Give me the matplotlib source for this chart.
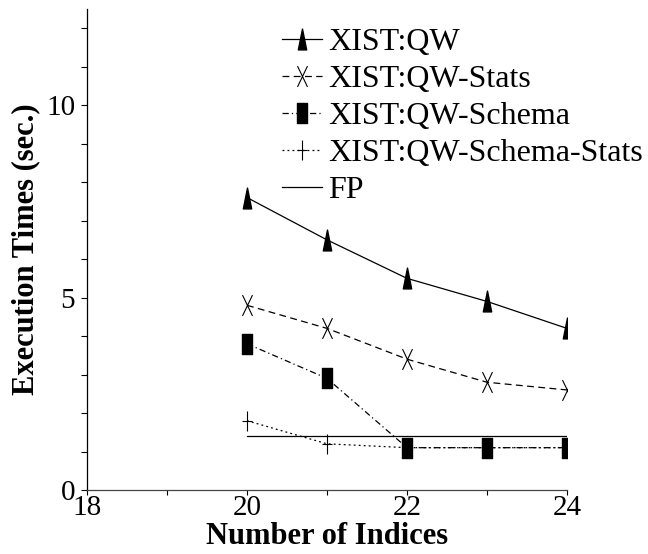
import numpy as np
import matplotlib.pyplot as plt
from matplotlib.path import Path

plt.rcParams['font.family'] = ['Liberation Serif', 'DejaVu Serif']

indices = [20, 21, 22, 23, 24]
qw = [7.6, 6.5, 5.5, 4.9, 4.2]
qw_stats = [4.8, 4.2, 3.4, 2.8, 2.6]
qw_schema = [3.8, 2.9, 1.1, 1.1, 1.1]
qw_schema_stats = [1.8, 1.2, 1.1, 1.1, 1.1]
fp = [1.4, 1.4, 1.4, 1.4, 1.4]

labels = ["XIST:QW", "XIST:QW-Stats", "XIST:QW-Schema",
          "XIST:QW-Schema-Stats", "FP"]

# tall, narrow markers like the original figure
tri = Path([(-0.2, -0.5), (0.2, -0.5), (0.0, 0.5), (-0.2, -0.5)],
           [Path.MOVETO, Path.LINETO, Path.LINETO, Path.CLOSEPOLY])
cross = Path([(-0.24, -0.5), (0.24, 0.5), (-0.24, 0.5), (0.24, -0.5)],
             [Path.MOVETO, Path.LINETO, Path.MOVETO, Path.LINETO])
rect = Path([(-0.22, -0.5), (0.22, -0.5), (0.22, 0.5), (-0.22, 0.5), (-0.22, -0.5)],
            [Path.MOVETO, Path.LINETO, Path.LINETO, Path.LINETO, Path.CLOSEPOLY])
plus = Path([(0, -0.5), (0, 0.5), (-0.25, 0), (0.25, 0)],
            [Path.MOVETO, Path.LINETO, Path.MOVETO, Path.LINETO])

fig = plt.figure(figsize=(6.48, 5.54), dpi=100)
ax = fig.add_axes([87/648, 1-490/554, 480/648, 481/554])

lw = 0.9
ax.plot(indices, qw, color='black', lw=lw, ls='-', marker=tri, ms=15,
        mfc='black', mec='black', label=labels[0])
ax.plot(indices, qw_stats, color='black', lw=lw, ls=(0, (5.5, 3.5)), marker=cross, ms=15,
        mfc='none', mec='black', mew=0.8, label=labels[1])
ax.plot(indices, qw_schema, color='black', lw=lw, ls=(0, (5, 2.5, 1, 2.5)), marker=rect, ms=15,
        mfc='black', mec='black', label=labels[2])
ax.plot(indices, qw_schema_stats, color='black', lw=lw, ls=(0, (1.5, 2.5)), marker=plus, ms=15,
        mfc='none', mec='black', mew=0.8, label=labels[3])
ax.plot(indices, fp, color='black', lw=lw, ls='-', label=labels[4])

ax.set_xlim(18, 24)
ax.set_ylim(0, 12.5)
ax.set_xticks([18, 20, 22, 24])
ax.set_xticks([19, 21, 23], minor=True)
ax.set_yticks([0, 5, 10])
ax.set_yticks([1, 2, 3, 4, 6, 7, 8, 9, 11, 12], minor=True)
ax.tick_params(which='both', direction='out', width=0.8, labelsize=21)
ax.tick_params(axis='y', which='both', length=4.5, pad=4)
ax.tick_params(axis='x', which='both', length=3.5, pad=0)

for s in ['top', 'right']:
    ax.spines[s].set_visible(False)
ax.spines['left'].set_linewidth(0.9)
ax.spines['bottom'].set_linewidth(0.9)
ax.spines['bottom'].set_color('#444444')

ax.set_xlabel("Number of Indices", fontsize=22, fontweight='bold', labelpad=1)
ax.set_ylabel("Execution Times (sec.)", fontsize=22, fontweight='bold', labelpad=4)

ax.legend(loc='upper left', bbox_to_anchor=(282/648, 1-28/554), bbox_transform=fig.transFigure,
          frameon=False, fontsize=23, numpoints=1, handlelength=1.25, handletextpad=0.19,
          labelspacing=0.235, borderpad=0, borderaxespad=0)

fig.savefig("out.png", dpi=100)
